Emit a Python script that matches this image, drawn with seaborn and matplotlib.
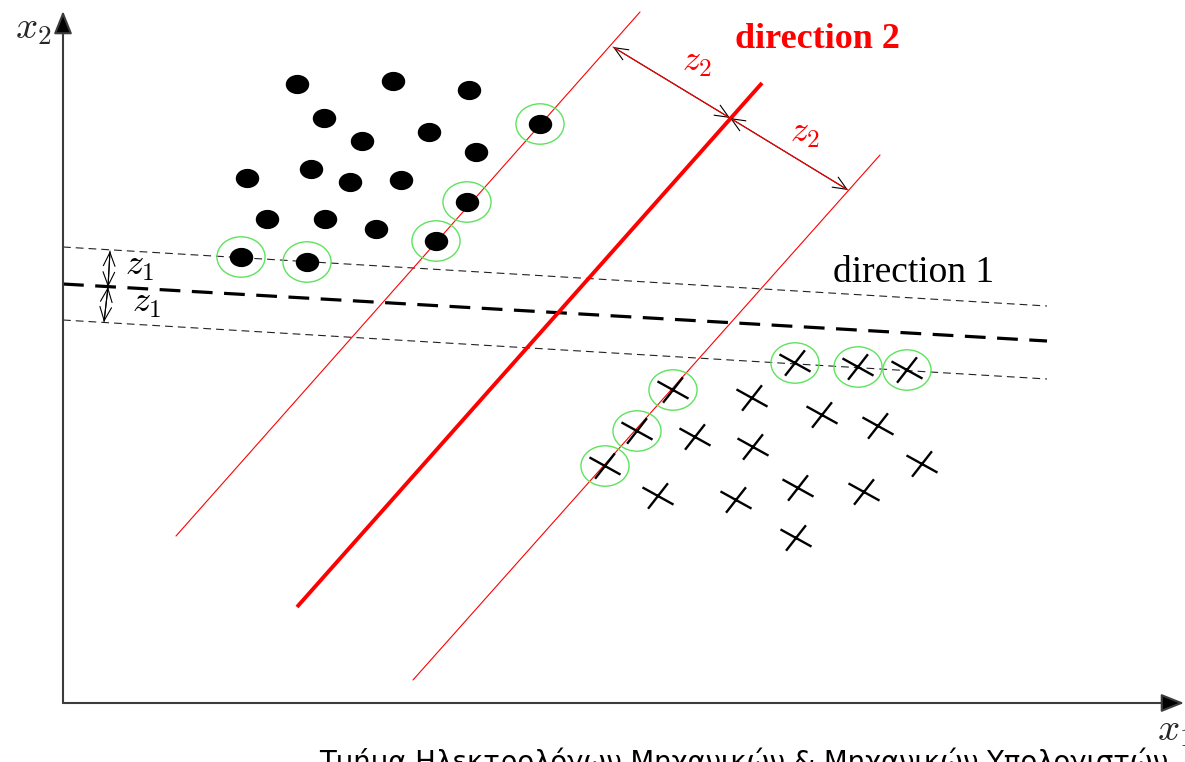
import matplotlib
matplotlib.use("Agg")
import numpy as np
import pandas as pd
import seaborn as sns
import matplotlib.pyplot as plt
from matplotlib.path import Path
from matplotlib.markers import MarkerStyle

sns.set_style("white")
plt.rcParams["mathtext.fontset"] = "cm"
plt.rcParams["font.family"] = ["DejaVu Sans"]

# ---- class A: filled dots (x1, x2) and support-vector flags ----
dots_x1 = [234, 330, 406, 261, 477, 299, 366, 413, 184, 248, 287, 338,
           404, 204, 262, 313, 373, 178, 244]
dots_x2 = [619, 622, 613, 585, 579, 562, 571, 551, 525, 534, 521, 523,
           501, 484, 484, 474, 462, 446, 441]
dots_sv = [False, False, False, False, True, False, False, False, False, False,
           False, False, True, False, False, False, True, True, True]

# ---- class B: crosses (x1, x2) and support-vector flags ----
cross_x1 = [732, 795, 844, 610, 574, 542, 689, 759, 815, 632, 690, 859,
            595, 673, 735, 801, 733]
cross_x2 = [340, 336, 333, 313, 272, 237, 305, 288, 277, 266, 256, 239,
            207, 203, 215, 211, 165]
cross_sv = [True, True, True, True, True, True, False, False, False, False,
            False, False, False, False, False, False, False]

# ---- direction 2: separating line and its two margins (end points) ----
dir2_mid_x1, dir2_mid_x2 = [234, 699], [96, 620]
dir2_up_x1, dir2_up_x2 = [113, 577], [167, 691]
dir2_lo_x1, dir2_lo_x2 = [350, 817], [23, 548]

# ---- direction 1: separating line and its two margins (end points) ----
dir1_mid_x1, dir1_mid_x2 = [0, 984], [419, 362]
dir1_up_x1, dir1_up_x2 = [0, 984], [456, 397]
dir1_lo_x1, dir1_lo_x2 = [0, 984], [383, 324]

# ---- margin-width arrows ----
z2_x1, z2_x2 = [550, 667, 785], [656, 585, 513]
z1_x1, z1_x2 = [47, 45, 41], [452, 416, 381]

dots = pd.DataFrame({"x1": dots_x1, "x2": dots_x2, "sv": dots_sv})
crosses = pd.DataFrame({"x1": cross_x1, "x2": cross_x2, "sv": cross_sv})
sv = pd.concat([dots[dots.sv], crosses[crosses.sv]])

# marker shapes: slightly flattened disc, tilted cross, flattened ring
ellipse_path = Path.unit_circle().transformed(
    matplotlib.transforms.Affine2D().scale(1.0, 0.82))
dot_marker = MarkerStyle(ellipse_path)
ring_path = Path.unit_circle().transformed(
    matplotlib.transforms.Affine2D().scale(1.0, 0.84))
ring_marker = MarkerStyle(ring_path)
a1 = np.deg2rad(52)
a2 = np.deg2rad(-29)
cross_path = Path(
    [(-15 * np.cos(a1), -15 * np.sin(a1)), (15 * np.cos(a1), 15 * np.sin(a1)),
     (-16.5 * np.cos(a2), -16.5 * np.sin(a2)), (16.5 * np.cos(a2), 16.5 * np.sin(a2))],
    [Path.MOVETO, Path.LINETO, Path.MOVETO, Path.LINETO])
cross_marker = MarkerStyle(cross_path)

fig = plt.figure(figsize=(11.85, 7.62), dpi=100)
ax = fig.add_axes([0, 0, 1, 1])
ax.set_xlim(-63, 1122)
ax.set_ylim(-59, 703)
ax.axis("off")

# coordinate axes with arrow heads
axis_col = "#3c3c3c"
head = "-|>,head_length=0.7,head_width=0.28"
ax.annotate("", xy=(0, 692), xytext=(0, 0),
            arrowprops=dict(arrowstyle=head, color=axis_col, lw=1.5,
                            mutation_scale=20, shrinkA=0, shrinkB=0,
                            fc="black", ec=axis_col))
ax.annotate("", xy=(1121, 0), xytext=(0, 0),
            arrowprops=dict(arrowstyle=head, color=axis_col, lw=1.5,
                            mutation_scale=20, shrinkA=0, shrinkB=0,
                            fc="black", ec=axis_col))
ax.text(-48, 665, r"$x_2$", fontsize=28, ha="left", va="baseline")
ax.text(1094, -37, r"$x_1$", fontsize=28, ha="left", va="baseline")

# direction 1 (dashed)
ax.plot(dir1_mid_x1, dir1_mid_x2, color="black", lw=2.3,
        dashes=(6.5, 3.6), zorder=2)
for xs, ys in [(dir1_up_x1, dir1_up_x2), (dir1_lo_x1, dir1_lo_x2)]:
    ax.plot(xs, ys, color="#222222", lw=0.8, dashes=(7, 4.5), zorder=2)

# direction 2 (red)
ax.plot(dir2_mid_x1, dir2_mid_x2, color="red", lw=2.8, zorder=2,
        solid_capstyle="butt")
for xs, ys in [(dir2_up_x1, dir2_up_x2), (dir2_lo_x1, dir2_lo_x2)]:
    ax.plot(xs, ys, color="red", lw=0.8, zorder=2)

# margin arrows
small_head = "<->,head_length=0.7,head_width=0.3"
for xs, ys, line_col in [(z2_x1, z2_x2, "red"), (z1_x1, z1_x2, "black")]:
    for i in range(2):
        ax.annotate("", xy=(xs[i + 1], ys[i + 1]), xytext=(xs[i], ys[i]),
                    arrowprops=dict(arrowstyle=small_head, color="black",
                                    lw=0.8, mutation_scale=14,
                                    shrinkA=0, shrinkB=0), zorder=3)
    ax.plot(xs, ys, color=line_col, lw=0.8, zorder=4)

# data points
sns.scatterplot(data=dots, x="x1", y="x2", marker=dot_marker, s=285,
                color="black", edgecolor="black", linewidth=0, ax=ax,
                zorder=5, legend=False)
sns.scatterplot(data=crosses, x="x1", y="x2", marker=cross_marker, s=500,
                facecolor="none", edgecolor="black", linewidth=1.7, ax=ax,
                zorder=5, legend=False)
sns.scatterplot(data=sv, x="x1", y="x2", marker=ring_marker, s=1200,
                facecolor="none", edgecolor="#5ee35e", linewidth=1.0, ax=ax,
                zorder=6, legend=False)

# labels
ax.text(672, 655, "direction 2", color="red", fontsize=26, fontweight="bold",
        family="Liberation Serif", va="baseline", ha="left")
ax.text(770, 421, "direction 1", color="black", fontsize=27,
        family="Liberation Serif", va="baseline", ha="left")
ax.text(619, 632, r"$z_2$", color="red", fontsize=26, va="baseline")
ax.text(727, 561, r"$z_2$", color="red", fontsize=26, va="baseline")
ax.text(62, 428, r"$z_1$", color="black", fontsize=26, va="baseline")
ax.text(69, 391, r"$z_1$", color="black", fontsize=26, va="baseline")

ax.text(1168 - 63, -68, "Τμήμα Ηλεκτρολόγων Μηχανικών & Μηχανικών Υπολογιστών",
        fontsize=19.8, ha="right", va="baseline", color="black",
        family="DejaVu Sans")

ax.set_xlabel("")
ax.set_ylabel("")
fig.savefig("out.png", dpi=100)
